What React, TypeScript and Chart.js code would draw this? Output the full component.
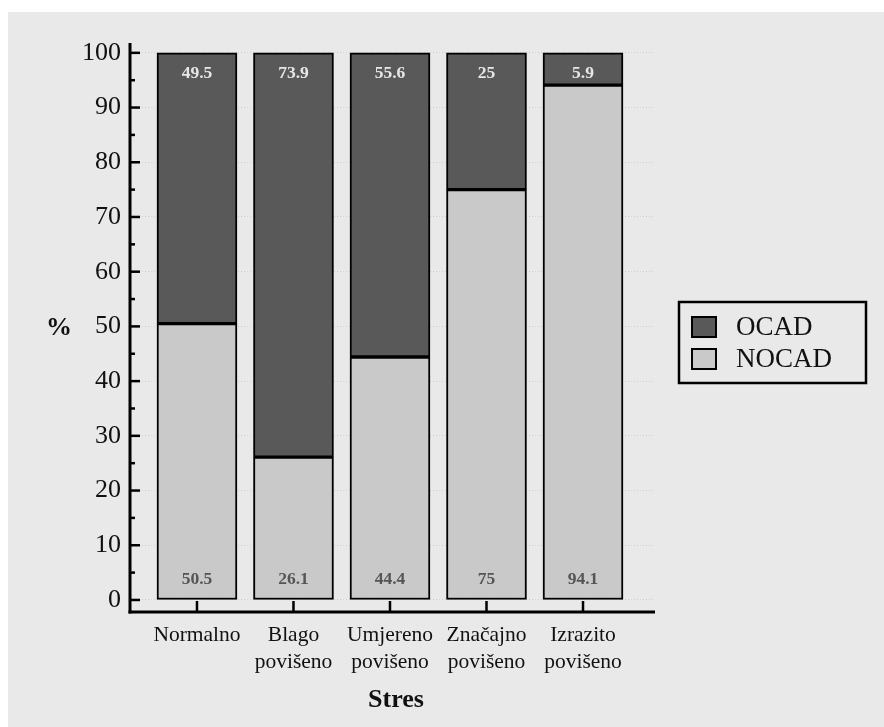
import React, { useEffect, useRef } from "react";
import { Chart, registerables } from "chart.js";

Chart.register(...registerables);

const categories: string[][] = [
  ["Normalno"],
  ["Blago", "povišeno"],
  ["Umjereno", "povišeno"],
  ["Značajno", "povišeno"],
  ["Izrazito", "povišeno"],
];
const ocadValues = [49.5, 73.9, 55.6, 25, 5.9];
const nocadValues = [50.5, 26.1, 44.4, 75, 94.1];
const yTickValues = [0, 10, 20, 30, 40, 50, 60, 70, 80, 90, 100];
const yMinorTicks = [5, 15, 25, 35, 45, 55, 65, 75, 85, 95];
const seriesNames = ["OCAD", "NOCAD"];
const xTitle = "Stres";
const yTitle = "%";

const FONT = '"Liberation Serif", "Times New Roman", Times, serif';
const BG = "#e9e9e9";
const DARK = "#595959";
const LIGHT = "#c9c9c9";

const fmt = (v: number) => String(v);

const overlayPlugin = {
  id: "overlay",
  afterDatasetsDraw(chart: any) {
    const ctx = chart.ctx as CanvasRenderingContext2D;
    const { left, right, top, bottom } = chart.chartArea;
    const xs = chart.scales.x;
    const ys = chart.scales.y;
    ctx.save();
    // value labels
    ctx.font = `bold 17.5px ${FONT}`;
    ctx.textAlign = "center";
    ctx.textBaseline = "middle";
    chart.getDatasetMeta(0).data.forEach((el: any, i: number) => {
      ctx.fillStyle = "#555555";
      ctx.fillText(fmt(nocadValues[i]), el.x, el.base - 20);
    });
    chart.getDatasetMeta(1).data.forEach((el: any, i: number) => {
      ctx.fillStyle = "#e6e6e6";
      ctx.fillText(fmt(ocadValues[i]), el.x, el.y + 21);
    });

    // axis lines
    ctx.strokeStyle = "#000";
    ctx.lineWidth = 3;
    ctx.beginPath();
    ctx.moveTo(left, top);
    ctx.lineTo(left, bottom + 1.5);
    ctx.stroke();
    ctx.beginPath();
    ctx.moveTo(left - 1.5, bottom);
    ctx.lineTo(right, bottom);
    ctx.stroke();

    // y ticks (inward)
    ctx.lineWidth = 2.5;
    yTickValues.forEach((v) => {
      const y = ys.getPixelForValue(v);
      ctx.beginPath();
      ctx.moveTo(left, y);
      ctx.lineTo(left + 10, y);
      ctx.stroke();
    });
    yMinorTicks.forEach((v) => {
      const y = ys.getPixelForValue(v);
      ctx.beginPath();
      ctx.moveTo(left, y);
      ctx.lineTo(left + 5, y);
      ctx.stroke();
    });
    // x ticks (inward)
    categories.forEach((_, i) => {
      const x = xs.getPixelForValue(i);
      ctx.beginPath();
      ctx.moveTo(x, bottom);
      ctx.lineTo(x, bottom - 11);
      ctx.stroke();
    });
    ctx.restore();
  },
  afterDraw(chart: any) {
    const ctx = chart.ctx as CanvasRenderingContext2D;
    ctx.save();
    ctx.fillStyle = "#111";
    ctx.textAlign = "center";
    ctx.textBaseline = "middle";
    ctx.font = `bold 26px ${FONT}`;
    ctx.fillText(xTitle, 388, 688);
    ctx.fillText(yTitle, 51, 316);

    // legend
    ctx.strokeStyle = "#000";
    ctx.lineWidth = 2.5;
    ctx.strokeRect(671, 290, 187, 81);
    const swatches = [DARK, LIGHT];
    const ys = [315, 347];
    ctx.textAlign = "left";
    ctx.font = `27px ${FONT}`;
    seriesNames.forEach((name, i) => {
      ctx.fillStyle = swatches[i];
      ctx.fillRect(684, ys[i] - 10, 24, 20);
      ctx.lineWidth = 2;
      ctx.strokeRect(684, ys[i] - 10, 24, 20);
      ctx.fillStyle = "#111";
      ctx.fillText(name, 728, ys[i] + 1);
    });
    ctx.restore();
  },
};

export default function App() {
  const canvasRef = useRef<HTMLCanvasElement | null>(null);

  useEffect(() => {
    if (!canvasRef.current) return;
    const chart = new Chart(canvasRef.current, {
      type: "bar",
      data: {
        datasets: [
          {
            label: seriesNames[1],
            data: nocadValues.map((v, i) => ({ x: i, y: v })),
            backgroundColor: LIGHT,
            borderColor: "#000",
            borderWidth: 2,
            borderSkipped: false,
            barThickness: 80,
          },
          {
            label: seriesNames[0],
            data: ocadValues.map((v, i) => ({ x: i, y: v })),
            backgroundColor: DARK,
            borderColor: "#000",
            borderWidth: 2,
            borderSkipped: false,
            barThickness: 80,
          },
        ],
      } as any,
      options: {
        responsive: false,
        animation: false,
        devicePixelRatio: 1,
        layout: { padding: { top: 31, right: 229, left: 0, bottom: 0 } },
        plugins: {
          legend: { display: false },
          tooltip: { enabled: false },
        },
        scales: {
          x: {
            type: "linear",
            min: -0.694,
            max: 4.746,
            offset: false,
            stacked: true,
            grid: { display: false, drawTicks: false },
            border: { display: false },
            afterBuildTicks: (s: any) => {
              s.ticks = categories.map((_, i) => ({ value: i }));
            },
            afterFit: (s: any) => {
              s.height = 115;
            },
            ticks: {
              autoSkip: false,
              maxRotation: 0,
              padding: 10,
              color: "#111",
              font: { family: FONT, size: 21.5, lineHeight: 1.26 },
              callback: (v: any) => categories[Math.round(Number(v))] ?? "",
            },
          },
          y: {
            type: "linear",
            min: -2.2,
            max: 101.8,
            stacked: true,
            grid: { color: "#cfcfcf", lineWidth: 1, drawTicks: false },
            border: { display: false, dash: [1, 2] },
            afterBuildTicks: (s: any) => {
              s.ticks = yTickValues.map((v) => ({ value: v }));
            },
            afterFit: (s: any) => {
              s.width = 122;
            },
            ticks: {
              padding: 9,
              color: "#111",
              font: { family: FONT, size: 26 },
            },
          },
        },
      } as any,
      plugins: [overlayPlugin],
    });
    return () => chart.destroy();
  }, []);

  return (
    <div
      style={{
        position: "absolute",
        left: 8,
        top: 12,
        width: 876,
        height: 715,
        background: BG,
      }}
    >
      <canvas ref={canvasRef} width={876} height={715} style={{ display: "block" }} />
    </div>
  );
}
